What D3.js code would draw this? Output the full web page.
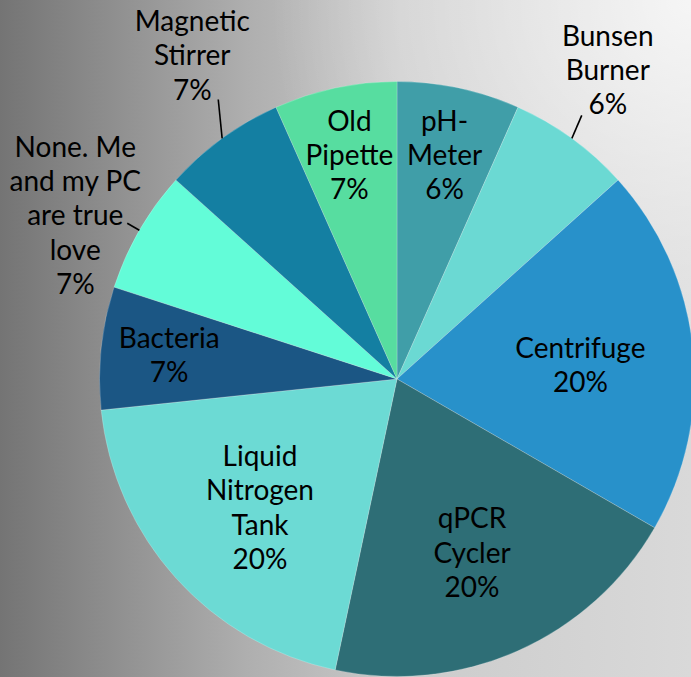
<!DOCTYPE html>
<html>
<head>
<meta charset="utf-8">
<script src="https://cdn.jsdelivr.net/npm/d3@7"></script>
<style>
html,body{margin:0;padding:0;overflow:hidden;}
svg{display:block;}
</style>
</head>
<body>
<svg id="chart" width="691" height="677"></svg>
<script>
// ---- data ----
const categories = ["pH-Meter", "Bunsen Burner", "Centrifuge", "qPCR Cycler", "Liquid Nitrogen Tank",
  "Bacteria", "None. Me and my PC are true love", "Magnetic Stirrer", "Old Pipette"];
const values = [1, 1, 3, 3, 3, 1, 1, 1, 1];
const percentLabels = ["6%", "6%", "20%", "20%", "20%", "7%", "7%", "7%", "7%"];
const labelLines = [["pH-", "Meter"], ["Bunsen", "Burner"], ["Centrifuge"], ["qPCR", "Cycler"],
  ["Liquid", "Nitrogen", "Tank"], ["Bacteria"], ["None. Me", "and my PC", "are true", "love"],
  ["Magnetic", "Stirrer"], ["Old", "Pipette"]];
const outsideLabels = ["Bunsen Burner", "None. Me and my PC are true love", "Magnetic Stirrer"];
const colors = ["#409ea8", "#6bd9d3", "#2891ca", "#2e6e76", "#6cdad4", "#1b5684", "#63fcd8", "#147fa2", "#57dda0"];

// ---- layout ----
const W = 691, H = 677;
const cx = 397, cy = 379, R = 297.5;
const fontSize = 28, lineH = 34.3;

const svg = d3.select("#chart");
const defs = svg.append("defs");
const g1 = defs.append("linearGradient").attr("id", "bg").attr("x1", 0).attr("y1", 0).attr("x2", 1).attr("y2", 0);
[[0, "#747474"], [0.36, "#afafaf"], [0.58, "#cbcbcb"], [1, "#d9d9d9"]].forEach(([o, c]) =>
  g1.append("stop").attr("offset", o).attr("stop-color", c));
const g2 = defs.append("radialGradient").attr("id", "glow").attr("gradientUnits", "userSpaceOnUse")
  .attr("cx", W).attr("cy", 0).attr("r", 420);
g2.append("stop").attr("offset", 0).attr("stop-color", "#ffffff").attr("stop-opacity", 0.75);
g2.append("stop").attr("offset", 1).attr("stop-color", "#ffffff").attr("stop-opacity", 0);

svg.append("rect").attr("width", W).attr("height", H).attr("fill", "url(#bg)");
svg.append("rect").attr("width", W).attr("height", H).attr("fill", "url(#glow)");

const pie = d3.pie().sort(null).value(d => d.value).startAngle(0).endAngle(2 * Math.PI);
const data = categories.map((c, i) => ({ name: c, value: values[i], pct: percentLabels[i], lines: labelLines[i], color: colors[i] }));
const arcs = pie(data);
const arc = d3.arc().innerRadius(0).outerRadius(R);

const g = svg.append("g").attr("transform", `translate(${cx},${cy})`);
g.selectAll("path.slice").data(arcs).join("path")
  .attr("class", "slice")
  .attr("d", arc)
  .attr("fill", d => d.data.color)
  .attr("stroke", "rgba(255,255,255,0.35)")
  .attr("stroke-width", 0.6);

const total = d3.sum(values);
const font = "Lato, 'Open Sans', sans-serif";

arcs.forEach(d => {
  const lines = d.data.lines.concat([d.data.pct]);
  const mid = (d.startAngle + d.endAngle) / 2;
  const sx = Math.sin(mid), sy = -Math.cos(mid);
  let x, y; // center x, center y of block
  if (outsideLabels.includes(d.data.name)) {
    const p0 = [sx * R, sy * R];
    let p1;
    if (Math.abs(sx) < 0.75) {
      // upper labels: leader rises almost vertically to the label block
      const left = sx < 0;
      const dir = left ? [-0.1, -1] : [0.43, -1];
      const len = left ? 39 : 25;
      const n = Math.hypot(dir[0], dir[1]);
      p1 = [p0[0] + dir[0] / n * len, p0[1] + dir[1] / n * len];
      x = p1[0] + Math.sign(sx) * 26;
      y = p1[1] - (left ? 10 : 11) - (lines.length - 1) * lineH / 2;
    } else {
      p1 = [p0[0] + sx * 14, p0[1] + sy * 14];
      x = p1[0] + Math.sign(sx) * 52;
      y = p1[1] - 8;
    }
    g.append("line").attr("x1", p0[0]).attr("y1", p0[1]).attr("x2", p1[0]).attr("y2", p1[1])
      .attr("stroke", "#000").attr("stroke-width", 1.6);
  } else {
    const big = d.data.value / total > 0.1;
    const k = big ? 0.62 : 0.77;
    x = sx * R * k;
    y = sy * R * k + (big ? 5 : 0);
  }
  const t = g.append("text")
    .attr("text-anchor", "middle")
    .attr("font-family", font)
    .attr("font-size", fontSize)
    .attr("fill", "#000");
  lines.forEach((ln, i) => {
    t.append("tspan").attr("x", x)
      .attr("y", y + (i - (lines.length - 1) / 2) * lineH)
      .attr("dy", "0.36em")
      .text(ln);
  });
});
</script>
</body>
</html>
